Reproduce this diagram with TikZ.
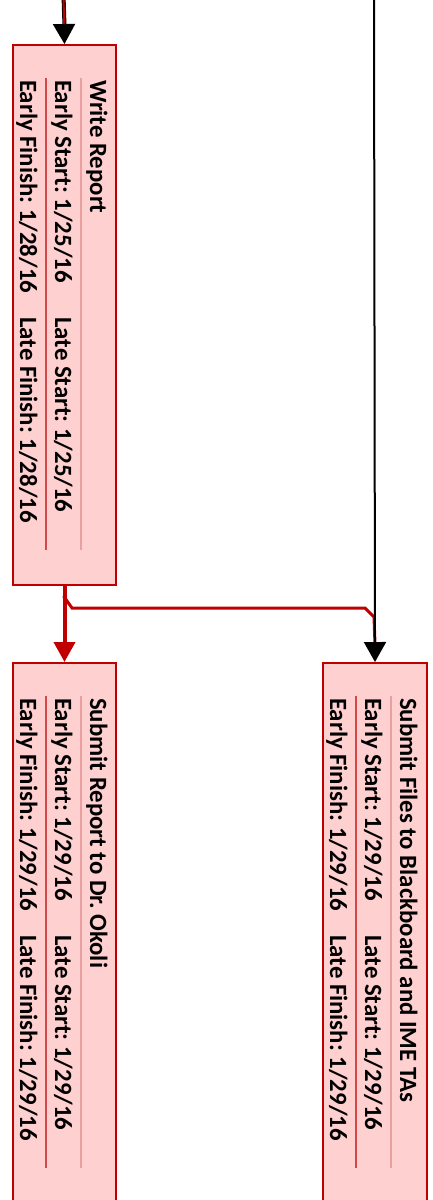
\documentclass[tikz,border=0pt]{standalone}
\usepackage{fontspec}
\setmainfont{Carlito}
\frenchspacing
\usetikzlibrary{arrows.meta,calc}
\definecolor{boxred}{HTML}{C00000}
\definecolor{boxfill}{HTML}{FFD0D0}
\definecolor{sepA}{HTML}{E8A0A0}
\definecolor{sepB}{HTML}{D04848}
\tikzset{
  taskbox/.style={draw=boxred, line width=2pt, fill=boxfill, rectangle, inner sep=0pt, anchor=north west},
  tasktext/.style={rotate=-90, anchor=base west, inner sep=0pt, font=\fontsize{24.8}{29}\selectfont\bfseries},
  sepa/.style={draw=sepA, line width=1.2pt},
  sepb/.style={draw=sepB, line width=1.2pt},
  redlink/.style={draw=boxred, line width=3pt},
  tipR/.style={-{Triangle[length=20pt,width=21pt]}},
  tipK/.style={-{Triangle[length=20pt,width=22pt,color=black]}}
}
\begin{document}
\begin{tikzpicture}[x=1pt,y=-1pt]
\useasboundingbox (0,0) rectangle (432,1200);
\clip (0,0) rectangle (432,1200);
% boxes
\node[taskbox, minimum width=103pt, minimum height=540pt] (wr) at (12,44) {};
\node[taskbox, minimum width=103pt, minimum height=600pt] (sr) at (12,662) {};
\node[taskbox, minimum width=104pt, minimum height=600pt] (sf) at (322,662) {};
% Write Report
\draw[sepa] (81,78) -- (81,550);
\draw[sepb] (46,78) -- (46,550);
\node[tasktext] (wrt) at (90,80) {Write Report};
\node[tasktext] (wres) at (55,80) {Early Start: 1/25/16};
\node[tasktext] (wrls) at (55,317) {Late Start: 1/25/16};
\node[tasktext] (wref) at (20,80) {Early Finish: 1/28/16};
\node[tasktext] (wrlf) at (20,317) {Late Finish: 1/28/16};
% Submit Report
\draw[sepa] (81,696) -- (81,1168);
\draw[sepb] (46,696) -- (46,1168);
\node[tasktext] (srt) at (90,698) {Submit Report to Dr. Okoli};
\node[tasktext] (sres) at (55,698) {Early Start: 1/29/16};
\node[tasktext] (srls) at (55,935) {Late Start: 1/29/16};
\node[tasktext] (sref) at (20,698) {Early Finish: 1/29/16};
\node[tasktext] (srlf) at (20,935) {Late Finish: 1/29/16};
% Submit Files
\draw[sepa] (391,696) -- (391,1168);
\draw[sepb] (356,696) -- (356,1168);
\node[tasktext] (sft) at (400,698) {Submit Files to Blackboard and IME TAs};
\node[tasktext] (sfes) at (365,698) {Early Start: 1/29/16};
\node[tasktext] (sfls) at (365,935) {Late Start: 1/29/16};
\node[tasktext] (sfef) at (330,698) {Early Finish: 1/29/16};
\node[tasktext] (sflf) at (330,935) {Late Finish: 1/29/16};
% connectors
\coordinate (t1) at (63.5,-5);
\coordinate (t2) at (374,-5);
\draw[black, line width=4pt] (t1) -- ($(wr.north)+(0,-18)$);
\draw[boxred, line width=2pt, tipK] (t1) -- (wr.north);
\draw[boxred, line width=4pt, tipR] (wr.south) -- (sr.north);
\coordinate (b1) at (63.5,596);
\coordinate (b2) at (72,608);
\coordinate (b3) at (365,608);
\coordinate (b4) at (374,617);
\draw[redlink, line join=miter] (b1) -- (b2) -- (b3) -- (b4) -- ($(sf.north)+(0,-18)$);
\draw[black, line width=2pt, tipK] (t2) -- (sf.north);
\end{tikzpicture}
\end{document}
